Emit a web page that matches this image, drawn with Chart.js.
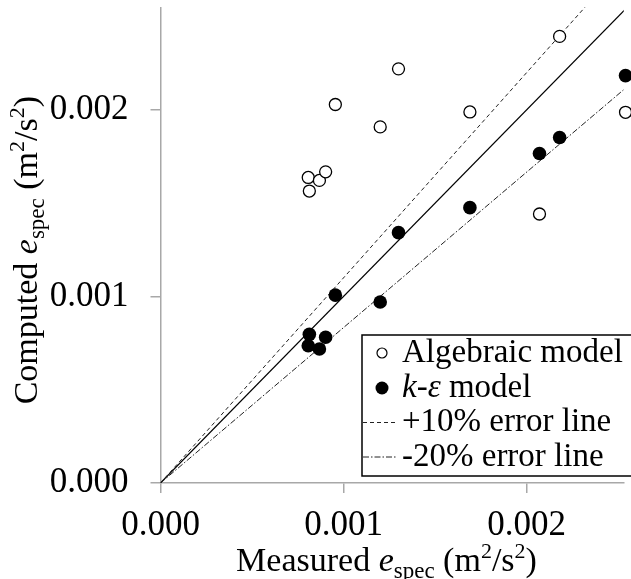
<!DOCTYPE html>
<html>
<head>
<meta charset="utf-8">
<script src="https://cdn.jsdelivr.net/npm/chart.js@4"></script>
<style>
    html, body { margin: 0; padding: 0; background: #fff; }
</style>
</head>
<body>
<canvas id="myChart" width="631" height="579"></canvas>
<script>
// measured e_spec (m2/s2) and computed values for the two models
const measured  = [0.000807, 0.000813, 0.000868, 0.000902, 0.000955, 0.00120, 0.00130, 0.00169, 0.00207, 0.00218, 0.00254];
const algebraic = [0.001638, 0.001565, 0.001622, 0.001668, 0.002029, 0.001909, 0.00222, 0.001989, 0.001442, 0.002394, 0.001987];
const kEpsilon  = [0.000736, 0.000797, 0.000718, 0.000781, 0.001007, 0.00097, 0.001342, 0.001476, 0.001766, 0.001852, 0.002184];

// reference lines (end points)
const lineX    = [0, 0.003];
const perfectY = [0, 0.003];
const plus10Y  = [0, 0.0033];
const minus20Y = [0, 0.0025];

const tickValues = [0, 0.001, 0.002];
const legendLabels = ['Algebraic model', 'k-ε model', '+10% error line', '-20% error line'];

const serif = "'Liberation Serif', 'Times New Roman', serif";
const axisGray = '#a8a8a8';

function pairs(xs, ys) {
    return xs.map((x, i) => ({ x: x, y: ys[i] }));
}

function font(size, italic) {
    return (italic ? 'italic ' : '') + size + 'px ' + serif;
}

// draw a run of text pieces (sub/superscripts, italics) starting at x
function drawRuns(ctx, runs, x, y, center) {
    let total = 0;
    runs.forEach(r => {
        ctx.font = font(r.size, r.italic);
        r.w = ctx.measureText(r.text).width;
        total += r.w;
    });
    let cx = center ? x - total / 2 : x;
    runs.forEach(r => {
        ctx.font = font(r.size, r.italic);
        ctx.fillText(r.text, cx, y + (r.dy || 0));
        cx += r.w;
    });
}

function titleRuns(word) {
    return [
        { text: word + ' ', size: 34 },
        { text: 'e', size: 34, italic: true },
        { text: 'spec', size: 23, dy: 7 },
        { text: ' (m', size: 34 },
        { text: '2', size: 22, dy: -13 },
        { text: '/s', size: 34 },
        { text: '2', size: 22, dy: -13 },
        { text: ')', size: 34 }
    ];
}

const extrasPlugin = {
    id: 'extras',
    afterDraw(chart) {
        const ctx = chart.ctx;
        const area = chart.chartArea;
        ctx.save();
        ctx.fillStyle = '#000';
        ctx.textBaseline = 'alphabetic';
        ctx.textAlign = 'left';

        // x axis title
        drawRuns(ctx, titleRuns('Measured'), area.left + 226, 571, true);

        // y axis title
        ctx.save();
        ctx.translate(37, (area.top + area.bottom) / 2 + 5);
        ctx.rotate(-Math.PI / 2);
        drawRuns(ctx, titleRuns('Computed'), 0, 0, true);
        ctx.restore();

        // legend box
        const bx = 362, by = 335, bh = 141;
        ctx.lineWidth = 1.5;
        ctx.strokeStyle = '#000';
        ctx.strokeRect(bx, by, 300, bh);

        const rows = [353, 388, 422.5, 457];
        const ds = chart.data.datasets;
        const textX = 402;
        ctx.textBaseline = 'middle';

        // open circle
        ctx.beginPath();
        ctx.arc(382, rows[0], 5, 0, Math.PI * 2);
        ctx.fillStyle = '#fff';
        ctx.fill();
        ctx.lineWidth = 1.2;
        ctx.strokeStyle = '#000';
        ctx.stroke();
        ctx.fillStyle = '#000';
        drawRuns(ctx, [{ text: legendLabels[0], size: 33 }], textX, rows[0]);

        // filled circle
        ctx.beginPath();
        ctx.arc(382, rows[1], 6.5, 0, Math.PI * 2);
        ctx.fill();
        drawRuns(ctx, [
            { text: 'k', size: 33, italic: true },
            { text: '-', size: 33 },
            { text: 'ε', size: 33, italic: true },
            { text: ' model', size: 33 }
        ], textX, rows[1]);

        // line samples
        [2, 3].forEach(i => {
            ctx.beginPath();
            ctx.setLineDash(ds[i].borderDash);
            ctx.lineWidth = 1;
            ctx.strokeStyle = ds[i].borderColor;
            ctx.moveTo(363, rows[i]);
            ctx.lineTo(397, rows[i]);
            ctx.stroke();
            ctx.setLineDash([]);
            drawRuns(ctx, [{ text: legendLabels[i], size: 33 }], textX, rows[i]);
        });

        ctx.restore();
    }
};

const ctx = document.getElementById('myChart').getContext('2d');

const myChart = new Chart(ctx, {
    type: 'scatter',
    data: {
        datasets: [
            {
                label: legendLabels[0],
                data: pairs(measured, algebraic),
                pointRadius: 6,
                pointBorderWidth: 1.3,
                pointBorderColor: '#000',
                pointBackgroundColor: '#fff',
                clip: false
            },
            {
                label: legendLabels[1],
                data: pairs(measured, kEpsilon),
                pointRadius: 6.8,
                pointBorderWidth: 0,
                pointBackgroundColor: '#000',
                clip: false
            },
            {
                label: legendLabels[2],
                data: pairs(lineX, plus10Y),
                showLine: true,
                pointRadius: 0,
                borderColor: '#222',
                borderWidth: 1,
                borderDash: [4, 3]
            },
            {
                label: legendLabels[3],
                data: pairs(lineX, minus20Y),
                showLine: true,
                pointRadius: 0,
                borderColor: '#222',
                borderWidth: 1,
                borderDash: [6, 2, 1.5, 2]
            },
            {
                label: 'Perfect',
                data: pairs(lineX, perfectY),
                showLine: true,
                pointRadius: 0,
                borderColor: '#000',
                borderWidth: 1.2
            }
        ]
    },
    options: {
        responsive: false,
        animation: false,
        events: [],
        layout: {
            padding: { top: 6, right: 0, bottom: 0, left: 0 }
        },
        plugins: {
            legend: { display: false },
            tooltip: { enabled: false }
        },
        scales: {
            x: {
                type: 'linear',
                min: 0,
                max: 0.00253,
                border: { color: axisGray, width: 1.5 },
                grid: {
                    drawOnChartArea: false,
                    drawTicks: true,
                    tickLength: 10,
                    color: axisGray,
                    lineWidth: 1.5
                },
                afterBuildTicks: s => { s.ticks = tickValues.map(v => ({ value: v })); },
                ticks: {
                    padding: 12,
                    color: '#000',
                    font: { family: serif, size: 35 },
                    maxRotation: 0,
                    autoSkip: false,
                    callback: v => v.toFixed(3)
                },
                afterFit: s => {
                    s.height = 96;
                    s.paddingLeft = 0;
                    s.paddingRight = 0;
                }
            },
            y: {
                type: 'linear',
                min: 0,
                max: 0.00255,
                border: { color: axisGray, width: 1.5 },
                grid: {
                    drawOnChartArea: false,
                    drawTicks: true,
                    tickLength: 10,
                    color: axisGray,
                    lineWidth: 1.5
                },
                afterBuildTicks: s => { s.ticks = tickValues.map(v => ({ value: v })); },
                ticks: {
                    padding: 22,
                    color: '#000',
                    font: { family: serif, size: 35 },
                    autoSkip: false,
                    callback: v => v.toFixed(3)
                },
                afterFit: s => {
                    s.width = 160.5;
                    s.paddingTop = 0;
                    s.paddingBottom = 0;
                }
            }
        }
    },
    plugins: [extrasPlugin]
});
</script>
</body>
</html>
